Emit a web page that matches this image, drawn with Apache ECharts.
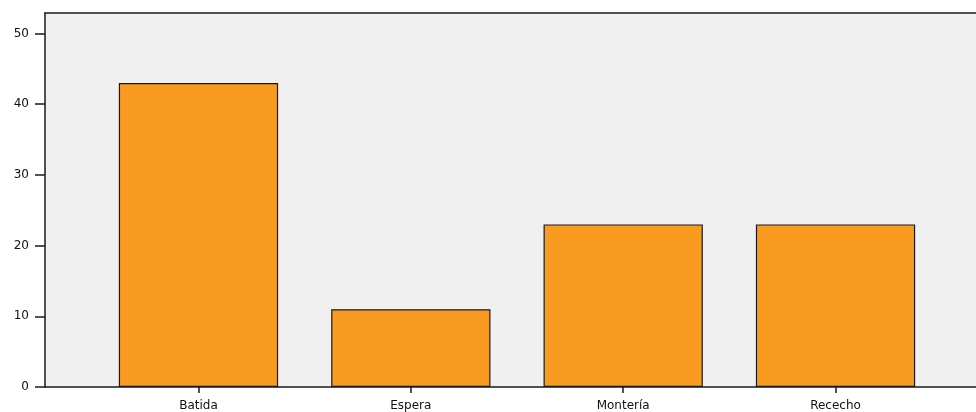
<!DOCTYPE html>
<html>
<head>
<meta charset="utf-8">
<script src="https://cdn.jsdelivr.net/npm/echarts@6/dist/echarts.min.js"></script>
<style>html,body{margin:0;padding:0;background:#fff}#c{width:976px;height:412px}</style>
</head>
<body>
<div id="c"></div>
<script>
const categories = ['Batida', 'Espera', 'Montería', 'Rececho'];
const values = [43, 11, 23, 23];
const yMin = 0, yMax = 52.9, yInterval = 10;

const chart = echarts.init(document.getElementById('c'), null, {renderer: 'canvas'});
const font = {fontFamily: 'DejaVu Sans', fontSize: 12, color: '#111'};
const lineStyle = {color: '#1a1a1a', width: 1.5};
chart.setOption({
  animation: false,
  grid: [
    {left: 45, right: 0, top: 13, bottom: 25, show: true, backgroundColor: '#f0f0f0', borderWidth: 0},
    {left: 92.3, right: 34.3, top: 13, bottom: 25}
  ],
  xAxis: [
    {gridIndex: 0, type: 'value', min: 0, max: 1, position: 'bottom',
     axisLine: {show: true, onZero: false, lineStyle: lineStyle}, axisTick: {show: false},
     axisLabel: {show: false}, splitLine: {show: false}},
    {gridIndex: 0, type: 'value', min: 0, max: 1, position: 'top',
     axisLine: {show: true, onZero: false, lineStyle: lineStyle}, axisTick: {show: false},
     axisLabel: {show: false}, splitLine: {show: false}},
    {gridIndex: 1, type: 'category', data: categories, position: 'bottom',
     axisLine: {show: false}, axisTick: {show: true, alignWithLabel: true, length: 6, lineStyle: lineStyle},
     axisLabel: Object.assign({margin: 13}, font), splitLine: {show: false}}
  ],
  yAxis: [
    {gridIndex: 0, type: 'value', min: yMin, max: yMax, interval: yInterval,
     axisLine: {show: true, onZero: false, lineStyle: lineStyle},
     axisTick: {show: true, length: 10, lineStyle: lineStyle},
     axisLabel: Object.assign({margin: 16, showMaxLabel: false}, font), splitLine: {show: false}},
    {gridIndex: 1, type: 'value', min: yMin, max: yMax, show: false, splitLine: {show: false}}
  ],
  series: [{
    type: 'bar', xAxisIndex: 2, yAxisIndex: 1, data: values, barCategoryGap: '25%',
    itemStyle: {color: '#f99b20', borderColor: '#1a1a1a', borderWidth: 1.2}
  }]
});
</script>
</body>
</html>
